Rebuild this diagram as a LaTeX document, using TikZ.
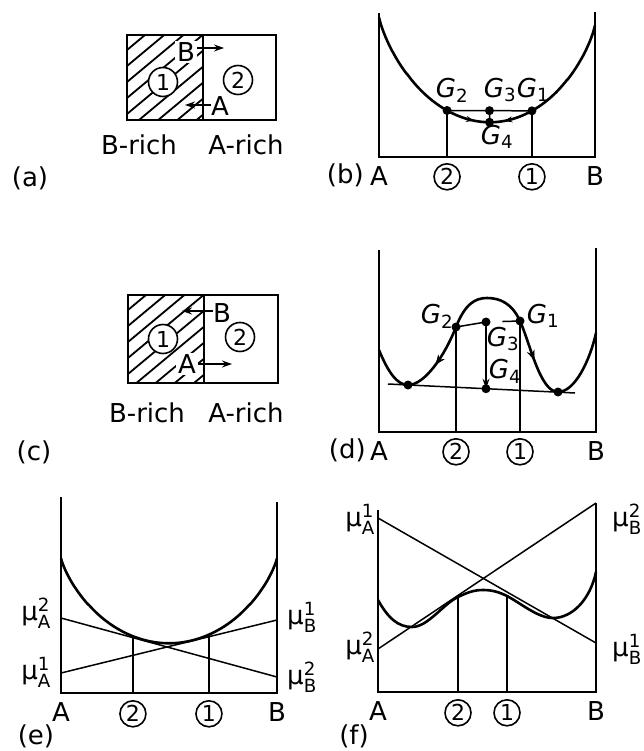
\documentclass[tikz,border=0pt]{standalone}
\usepackage{amsmath}
\usepackage{fontspec}
\setmainfont{DejaVu Sans}
\usetikzlibrary{arrows.meta,positioning,calc,decorations.markings}

\newcommand{\lblfont}{\fontsize{26}{30}\selectfont}
\newcommand{\numfont}{\fontsize{22}{24}\selectfont}
\newcommand{\chempot}[2]{$\text{μ}^{\text{#2}}_{\text{#1}}$}
\newcommand{\gibbs}[1]{$\text{\itshape G}_{\text{#1}}$}
\pgfmathdeclarefunction{gmix}{1}{\pgfmathparse{#1*ln(#1)+(1-#1)*ln(1-#1)}}
\pgfmathdeclarefunction{ecos}{1}{\pgfmathparse{(1-cos(180*#1))/2}}
\pgfmathdeclarefunction{gb}{1}{\pgfmathparse{17+8*#1-146*gmix(#1)}}
\pgfmathdeclarefunction{ge}{1}{\pgfmathparse{558-123*gmix(#1)}}

\begin{document}
\begin{tikzpicture}[x=1pt, y=-1pt, font=\lblfont,
  >={Stealth[length=10pt,width=7pt]},
  axis/.style={line width=2.3pt},
  curve/.style={line width=2.6pt},
  fine/.style={line width=1.5pt},
  hatch/.style={line width=1.8pt},
  dot/.style={circle, fill, inner sep=0pt, minimum size=9pt},
  circnum/.style={circle, draw, line width=1.6pt, inner sep=0pt, minimum size=26pt, font=\numfont},
  boxnum/.style={circnum, minimum size=29pt, fill=white},
  lbl/.style={inner sep=0pt},
  onarrow/.style={postaction={decorate}, decoration={markings, mark=at position #1 with {\arrow{Stealth[length=10pt,width=8pt]}}}},
  backarrow/.style={postaction={decorate}, decoration={markings, mark=at position #1 with {\arrowreversed{Stealth[length=10pt,width=8pt]}}}}]
\useasboundingbox (0,0) rectangle (643,751);

% (a) interface, B leaves the B-rich side
\coordinate (aNW) at (127,35);
\coordinate (aSE) at (276,120);
\coordinate (aMidT) at (203,35);
\coordinate (aMidB) at (203,120);
\begin{scope}
  \clip (aNW) rectangle (aMidB);
  \foreach \k in {1,...,10}
    \draw[hatch] (127,{34+16*\k}) -- ++(120,-100);
\end{scope}
\draw[axis] (aNW) rectangle (aSE);
\draw[axis] (aMidT) -- (aMidB);
\node[boxnum] (aOne) at (163,82) {1};
\node[boxnum] (aTwo) at (238,80) {2};
\node[lbl, fill=white, inner sep=2pt] (aB) at (186,52) {B};
\node[lbl] (aA) at (220,106) {A};
\coordinate (aBtip) at (224,48);
\coordinate (aAtip) at (185,105);
\draw[fine, ->] (aB.east |- aBtip) -- (aBtip);
\draw[fine, ->] (aA.west |- aAtip) -- (aAtip);
\node (aLeft) at (139,145) {B-rich};
\node (aRight) at (246,145) {A-rich};
\node (aTag) at (30,178) {(a)};

% (b) U-shaped free energy
\coordinate (bAtop) at (379,13);
\coordinate (bA) at (379,157);
\coordinate (bB) at (595,157);
\coordinate (bBtop) at (595,12);
\draw[axis] (bAtop) -- (bA) -- (bB) -- (bBtop);
\draw[curve] plot[domain=0.01:0.99, samples=140, variable=\t] ({379+216*ecos(\t)},{gb(ecos(\t))});
\coordinate (G2b) at ({379+216*0.315},{gb(0.315)});
\coordinate (G1b) at ({379+216*0.708},{gb(0.708)});
\coordinate (G3b) at ($(G2b)!0.5!(G1b)$);
\coordinate (G4b) at ({379+216*0.5116},{gb(0.5116)});
\draw[fine] (G2b) -- (G1b);
\draw[fine] (G3b) -- (G4b);
\draw[fine, -{Stealth[length=8pt,width=6pt]}] plot[domain=0.38:0.44, samples=5] ({379+216*\x},{gb(\x)});
\draw[fine, {Stealth[length=8pt,width=6pt]}-] plot[domain=0.58:0.64, samples=5] ({379+216*\x},{gb(\x)});
\coordinate (bX2) at (G2b |- bA);
\coordinate (bX1) at (G1b |- bA);
\draw[axis] (G2b) -- (bX2);
\draw[axis] (G1b) -- (bX1);
\foreach \p in {G1b,G2b,G3b,G4b}
  \node[dot] (dot\p) at (\p) {};
\node (G2blbl) at (452,90) {\gibbs{2}};
\node (G3blbl) at (500,90) {\gibbs{3}};
\node (G1blbl) at (533,90) {\gibbs{1}};
\node (G4blbl) at (497,137) {\gibbs{4}};
\node[lbl, below=9pt of bA] (bAl) {A};
\node[lbl, below=9pt of bB] (bBl) {B};
\node[circnum, below=6pt of bX2] (bTwo) {2};
\node[circnum, below=6pt of bX1] (bOne) {1};
\node[lbl, left=6pt of bAl] (bTag) {(b)};

% (c) interface, A leaves the B-rich side
\coordinate (cNW) at (128,295);
\coordinate (cSE) at (278,383);
\coordinate (cMidT) at (204,295);
\coordinate (cMidB) at (204,383);
\begin{scope}
  \clip (cNW) rectangle (cMidB);
  \foreach \k in {1,...,10}
    \draw[hatch] (128,{294+16*\k}) -- ++(120,-100);
\end{scope}
\draw[axis] (cNW) rectangle (cSE);
\draw[axis] (cMidT) -- (cMidB);
\node[boxnum] (cOne) at (163,339) {1};
\node[boxnum] (cTwo) at (240,337) {2};
\node[lbl] (cB) at (222,313) {B};
\node[lbl, fill=white, inner sep=2pt] (cA) at (187,364) {A};
\coordinate (cBtip) at (182,311);
\coordinate (cAtip) at (232,364);
\draw[fine, ->] (cB.west |- cBtip) -- (cBtip);
\draw[fine, ->] (cA.east |- cAtip) -- (cAtip);
\node (cLeft) at (147,413) {B-rich};
\node (cRight) at (246,413) {A-rich};
\node (cTag) at (34,452) {(c)};

% (d) double-well free energy
\coordinate (dAtop) at (379,250);
\coordinate (dA) at (379,432);
\coordinate (dB) at (596,432);
\coordinate (dBtop) at (596,248);
\draw[axis] (dAtop) -- (dA) -- (dB) -- (dBtop);
\coordinate (dL) at (379,350);
\coordinate (dM1) at (408,385);
\coordinate (G2d) at (456,327);
\coordinate (dP) at (487,298);
\coordinate (G1d) at (520,321);
\coordinate (dM2) at (558,392);
\coordinate (dR) at (596,333);
\draw[curve] (dL) .. controls (388,372) and (397,385) .. (dM1)
  .. controls (425,385) and (445,355) .. (G2d)
  .. controls (465,304) and (475,298) .. (dP)
  .. controls (500,298) and (512,303.4) .. (G1d)
  .. controls (530,343) and (540,392) .. (dM2)
  .. controls (575,392) and (590,360) .. (dR);
\path[backarrow=0.45] (dM1) .. controls (425,385) and (445,355) .. (G2d);
\path[onarrow=0.5] (G1d) .. controls (530,343) and (540,392) .. (dM2);
\coordinate (dT1) at (388,384);
\coordinate (dT2) at (575,393);
\draw[fine] (dT1) -- (dT2);
\coordinate (G3d) at (486,322);
\coordinate (G4d) at (486,388.7);
\coordinate (dC) at ($(G3d)!0.48!(G1d)$);
\draw[fine] (G2d) -- (G3d);
\draw[fine] (dC) -- (G1d);
\draw[fine, ->] (G3d) -- (G4d);
\coordinate (dX2) at (G2d |- dA);
\coordinate (dX1) at (G1d |- dA);
\draw[axis] (G2d) -- (dX2);
\draw[axis] (G1d) -- (dX1);
\foreach \p in {G1d,G2d,G3d,G4d,dM1,dM2}
  \node[dot] (dot\p) at (\p) {};
\node (G2dlbl) at (437,316) {\gibbs{2}};
\node (G1dlbl) at (543,316) {\gibbs{1}};
\node (G3dlbl) at (503,339) {\gibbs{3}};
\node (G4dlbl) at (505,371) {\gibbs{4}};
\node[lbl, below=9pt of dA] (dAl) {A};
\node[lbl, below=9pt of dB] (dBl) {B};
\node[circnum, below=6pt of dX2] (dTwo) {2};
\node[circnum, below=6pt of dX1] (dOne) {1};
\node[lbl, left=4pt of dAl] (dTag) {(d)};

% (e) chemical potentials, U-shaped curve
\coordinate (eAtop) at (61,497);
\coordinate (eA) at (61,693);
\coordinate (eB) at (277,693);
\coordinate (eBtop) at (277,502);
\draw[axis] (eAtop) -- (eA) -- (eB) -- (eBtop);
\draw[curve] plot[domain=0.01:0.99, samples=140, variable=\t] ({61+216*ecos(\t)},{ge(ecos(\t))});
\coordinate (eL2) at (61,618);
\coordinate (eR2) at (277,677);
\coordinate (eL1) at (61,673);
\coordinate (eR1) at (277,620);
\draw[fine] (eL2) -- (eR2);
\draw[fine] (eL1) -- (eR1);
\coordinate (G2e) at ({61+216*0.333},{ge(0.333)});
\coordinate (G1e) at ({61+216*0.685},{ge(0.685)});
\coordinate (eX2) at (G2e |- eA);
\coordinate (eX1) at (G1e |- eA);
\draw[axis] (G2e) -- (eX2);
\draw[axis] (G1e) -- (eX1);
\node (muA2e) at (36,613) {\chempot{A}{2}};
\node (muA1e) at (36,672) {\chempot{A}{1}};
\node (muB1e) at (302,617) {\chempot{B}{1}};
\node (muB2e) at (302,677) {\chempot{B}{2}};
\node[lbl, below=9pt of eA] (eAl) {A};
\node[lbl, below=9pt of eB] (eBl) {B};
\node[circnum, below=7pt of eX2] (eTwo) {2};
\node[circnum, below=7pt of eX1] (eOne) {1};
\node (eTag) at (36,736) {(e)};

% (f) chemical potentials, double-well curve
\coordinate (fAtop) at (378,510);
\coordinate (fA) at (378,692);
\coordinate (fB) at (596,692);
\coordinate (fBtop) at (596,503);
\draw[axis] (fAtop) -- (fA) -- (fB) -- (fBtop);
\coordinate (fL1) at (378,518);
\coordinate (fR1) at (596,643);
\coordinate (fL2) at (378,649);
\coordinate (fR2) at (596,503);
\draw[fine] (fL1) -- (fR1);
\draw[fine] (fL2) -- (fR2);
\coordinate (fL) at (378,600);
\coordinate (fM1) at (412,627);
\coordinate (G2f) at (458,597);
\coordinate (fP) at (483,590);
\coordinate (G1f) at (507,596);
\coordinate (fM2) at (553,618);
\coordinate (fR) at (596,572);
\draw[curve] (fL) .. controls (388,618) and (398,627) .. (fM1)
  .. controls (428,627) and (443,604) .. (G2f)
  .. controls (468,592) and (475,590) .. (fP)
  .. controls (492,590) and (499,592) .. (G1f)
  .. controls (522,604) and (538,618) .. (fM2)
  .. controls (572,618) and (590,600) .. (fR);
\coordinate (fX2) at (G2f |- fA);
\coordinate (fX1) at (G1f |- fA);
\draw[axis] (G2f) -- (fX2);
\draw[axis] (G1f) -- (fX1);
\node (muA1f) at (360,519) {\chempot{A}{1}};
\node (muA2f) at (360,647) {\chempot{A}{2}};
\node (muB2f) at (627,519) {\chempot{B}{2}};
\node (muB1f) at (627,649) {\chempot{B}{1}};
\node[lbl, below=9pt of fA] (fAl) {A};
\node[lbl, below=9pt of fB] (fBl) {B};
\node[circnum, below=7pt of fX2] (fTwo) {2};
\node[circnum, below=7pt of fX1] (fOne) {1};
\node (fTag) at (354,736) {(f)};
\end{tikzpicture}
\end{document}
